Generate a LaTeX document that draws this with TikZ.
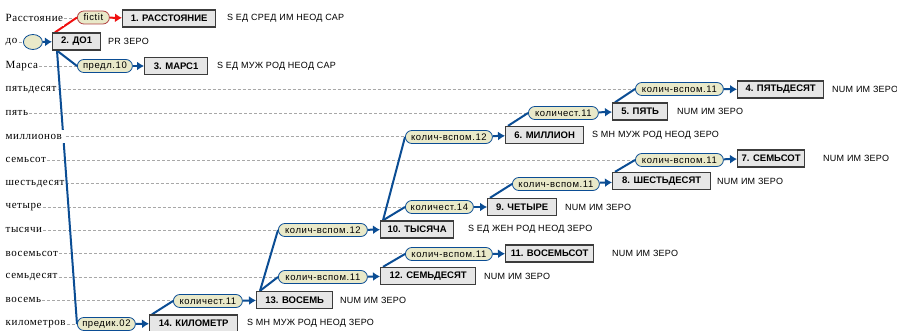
\documentclass[tikz,border=0pt]{standalone}
\usepackage{fontspec}
\setmainfont{Liberation Sans}
\newfontfamily\wordfont[LetterSpace=5]{Liberation Serif}
\newfontfamily\pillfont[LetterSpace=6]{Liberation Sans}
\newfontfamily\tagfont[LetterSpace=3]{Liberation Sans}
\usetikzlibrary{arrows.meta,calc,shapes.geometric}
\definecolor{linkblue}{HTML}{0B4D94}
\definecolor{linkred}{HTML}{F01010}
\definecolor{pillfill}{HTML}{E9E9C9}
\definecolor{pillred}{HTML}{B04040}
\definecolor{boxfill}{HTML}{E6E6E6}
\definecolor{boxline}{HTML}{3C3C3C}
\definecolor{rowdash}{HTML}{A8A8A8}
\pgfdeclarelayer{under}
\pgfsetlayers{under,main}
\tikzset{
  word/.style={font=\wordfont\fontsize{11}{12}\selectfont, anchor=west, fill=white,
    inner xsep=1pt, inner ysep=4pt},
  wbox/.style={draw=boxline, line width=1.3pt, fill=boxfill, anchor=west,
    minimum height=17pt, inner sep=0pt, font=\bfseries\fontsize{9.5}{11}\selectfont},
  pill/.style={draw=linkblue, line width=0.8pt, fill=pillfill, rounded corners=6.5pt,
    anchor=west, minimum height=13pt, inner sep=0pt, font=\pillfont\fontsize{9.5}{11}\selectfont},
  tag/.style={anchor=west, inner sep=0pt, font=\tagfont\fontsize{9}{11}\selectfont},
  rowline/.style={draw=rowdash, line width=0.6pt, dash pattern=on 3pt off 2pt},
  tie/.style={draw=linkblue, line width=2pt},
  redtie/.style={draw=linkred, line width=2pt},
  link/.style={tie, -{Latex[length=7pt,width=9pt]}},
  redlink/.style={redtie, -{Latex[length=7pt,width=9pt]}},
}
\begin{document}
\begin{tikzpicture}[x=1pt,y=-1pt]
\useasboundingbox (0,0) rectangle (897,331);

% sentence words, one per row
\node[word] (w0)  at (4.5,18)    {Расстояние};
\node[word] (w1)  at (4.5,42)    {до};
\node[word] (w2)  at (4.5,66)    {Марса};
\node[word] (w3)  at (4.5,89.5)  {пятьдесят};
\node[word] (w4)  at (4.5,113)   {пять};
\node[word, inner xsep=3.5pt] (w5) at (2,136.5) {миллионов};
\node[word] (w6)  at (4.5,160)   {семьсот};
\node[word] (w7)  at (4.5,183.5) {шестьдесят};
\node[word] (w8)  at (4.5,207)   {четыре};
\node[word] (w9)  at (4.5,230)   {тысячи};
\node[word] (w10) at (4.5,253.5) {восемьсот};
\node[word] (w11) at (4.5,277)   {семьдесят};
\node[word] (w12) at (4.5,300)   {восемь};
\node[word] (w13) at (4.5,324)   {километров};

% relation pills
\node[pill, draw=pillred, minimum width=32pt] (p1) at (77,17.5) {fictit};
\node[draw=linkblue, line width=0.8pt, fill=pillfill, ellipse, anchor=west,
      minimum width=19pt, minimum height=15pt, inner sep=0pt] (p2) at (23,42) {};
\node[pill, minimum width=55pt] (p3)  at (77,66)    {предл.10};
\node[pill, minimum width=88pt] (p4)  at (635,89)   {колич-вспом.11};
\node[pill, minimum width=70pt] (p5)  at (528,113)  {количест.11};
\node[pill, minimum width=87pt] (p6)  at (405,137)  {колич-вспом.12};
\node[pill, minimum width=88pt] (p7)  at (635,160)  {колич-вспом.11};
\node[pill, minimum width=87pt] (p8)  at (512,184)  {колич-вспом.11};
\node[pill, minimum width=68pt] (p9)  at (405,207)  {количест.14};
\node[pill, minimum width=89pt] (p10) at (278,230)  {колич-вспом.12};
\node[pill, minimum width=87pt] (p11) at (405,254)  {колич-вспом.11};
\node[pill, minimum width=89pt] (p12) at (278,277)  {колич-вспом.11};
\node[pill, minimum width=69pt] (p13) at (173,301)  {количест.11};
\node[pill, minimum width=58pt] (p14) at (77,324)   {предик.02};

% word boxes
\node[wbox, minimum width=93pt] (b1)  at (122,18.5) {1. РАССТОЯНИЕ};
\node[wbox, minimum width=48pt] (b2)  at (52,41.5)  {2. ДО1};
\node[wbox, minimum width=63pt] (b3)  at (144,66)   {3. МАРС1};
\node[wbox, minimum width=86pt] (b4)  at (737,89.5) {4. ПЯТЬДЕСЯТ};
\node[wbox, minimum width=55pt] (b5)  at (612,111.5){5. ПЯТЬ};
\node[wbox, minimum width=78pt] (b6)  at (505,135)  {6. МИЛЛИОН};
\node[wbox, minimum width=67pt] (b7)  at (737,158.5){7. СЕМЬСОТ};
\node[wbox, minimum width=98pt] (b8)  at (612,181)  {8. ШЕСТЬДЕСЯТ};
\node[wbox, minimum width=69pt] (b9)  at (487,207)  {9. ЧЕТЫРЕ};
\node[wbox, minimum width=73pt] (b10) at (380,229.5){10. ТЫСЯЧА};
\node[wbox, minimum width=88pt] (b11) at (505,253.5){11. ВОСЕМЬСОТ};
\node[wbox, minimum width=95pt] (b12) at (380,276)  {12. СЕМЬДЕСЯТ};
\node[wbox, minimum width=76pt] (b13) at (256,300)  {13. ВОСЕМЬ};
\node[wbox, minimum width=88pt] (b14) at (149,323.5){14. КИЛОМЕТР};

% grammatical tags
\node[tag] (t1)  at (227,18.5)  {S ЕД СРЕД ИМ НЕОД САР};
\node[tag] (t2)  at (108,41.5)  {PR ЗЕРО};
\node[tag] (t3)  at (217,66)    {S ЕД МУЖ РОД НЕОД САР};
\node[tag] (t4)  at (832,89.5)  {NUM ИМ ЗЕРО};
\node[tag] (t5)  at (677,111.5) {NUM ИМ ЗЕРО};
\node[tag] (t6)  at (592,135)   {S МН МУЖ РОД НЕОД ЗЕРО};
\node[tag] (t7)  at (823,158.5) {NUM ИМ ЗЕРО};
\node[tag] (t8)  at (717,181)   {NUM ИМ ЗЕРО};
\node[tag] (t9)  at (565,207)   {NUM ИМ ЗЕРО};
\node[tag] (t10) at (468,229.5) {S ЕД ЖЕН РОД НЕОД ЗЕРО};
\node[tag] (t11) at (612,253.5) {NUM ИМ ЗЕРО};
\node[tag] (t12) at (484,276)   {NUM ИМ ЗЕРО};
\node[tag] (t13) at (340,300)   {NUM ИМ ЗЕРО};
\node[tag] (t14) at (247,323.5) {S МН МУЖ РОД НЕОД ЗЕРО};

\begin{pgfonlayer}{under}
  % dashed row guides from each word to the first element of its row
  \foreach \w/\p in {w0/p1,w1/p2,w2/p3,w3/p4,w4/p5,w5/p6,w6/p7,w7/p8,
                     w8/p9,w9/p10,w10/p11,w11/p12,w12/p13,w13/p14}
    \draw[rowline] (\w.east) -- (\w.east -| \p.west);
  % dependency ties from the governing box to the relation pill
  \draw[redtie] ($(b2.north west)+(3,0)$) -- (p1.west);
  \draw[tie] ($(b2.south west)+(5,0)$) -- (p3.west);
  \draw[tie] ($(b2.south west)+(5,0)$) -- (p14.west);
  \draw[tie] ($(b14.north west)+(3,0)$) -- (p13.west);
  \draw[tie] ($(b13.north west)+(4,0)$) -- (p12.west);
  \draw[tie] ($(b13.north west)+(4,0)$) -- (p10.west);
  \draw[tie] ($(b12.north west)+(3,0)$) -- (p11.west);
  \draw[tie] ($(b10.north west)+(3,0)$) -- (p9.west);
  \draw[tie] ($(b10.north west)+(3,0)$) -- (p6.west);
  \draw[tie] ($(b6.north west)+(3,0)$) -- (p5.west);
  \draw[tie] ($(b5.north west)+(3,0)$) -- (p4.west);
  \draw[tie] ($(b9.north west)+(3,0)$) -- (p8.west);
  \draw[tie] ($(b8.north west)+(3,0)$) -- (p7.west);
\end{pgfonlayer}

% arrows from each pill to its dependent box
\draw[redlink] (p1) -- (b1);
\foreach \i in {2,...,14}
  \draw[link] (p\i) -- (b\i);
\end{tikzpicture}
\end{document}
